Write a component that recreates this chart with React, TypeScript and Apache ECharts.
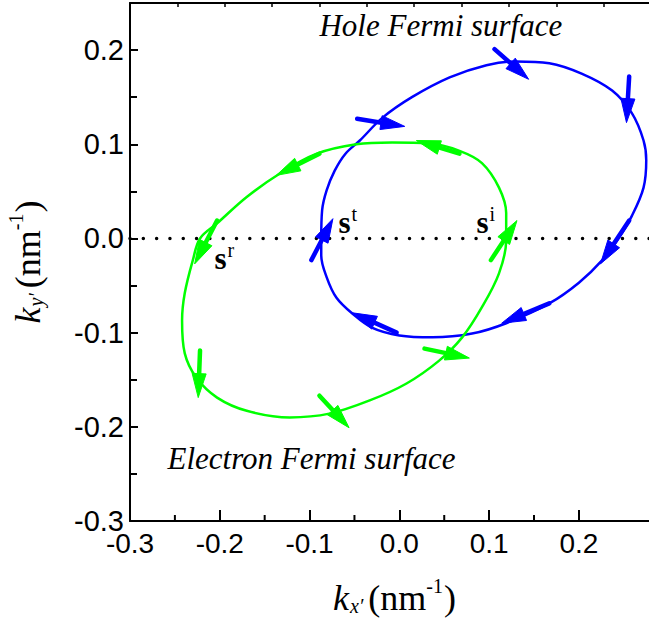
import React, { useEffect, useRef } from 'react';
import * as echarts from 'echarts';

// ---------- axis ranges / ticks ----------
const X_MIN = -0.3;
const X_MAX = 0.2803;
const Y_MIN = -0.3;
const Y_MAX = 0.25;
const xMinorTicks = [-0.25, -0.15, -0.05, 0.05, 0.15];
const topTickMax = 11;

// ---------- hole Fermi surface (blue) ----------
const holeX = [-0.087, -0.086, -0.081, -0.072, -0.060, -0.044, -0.019, 0.014, 0.056, 0.097, 0.130, 0.167, 0.203, 0.237, 0.259, 0.272, 0.275, 0.272, 0.259, 0.244, 0.226, 0.200, 0.167, 0.119, 0.081, 0.037, 0.000, -0.030, -0.052, -0.070, -0.081, -0.087, -0.087];
const holeY = [0.000, 0.030, 0.051, 0.072, 0.090, 0.104, 0.128, 0.150, 0.171, 0.184, 0.188, 0.186, 0.175, 0.157, 0.133, 0.104, 0.083, 0.054, 0.024, 0.000, -0.023, -0.047, -0.069, -0.090, -0.101, -0.105, -0.103, -0.095, -0.080, -0.063, -0.041, -0.018, 0.000];

// ---------- electron Fermi surface (green) ----------
const electronX = [-0.008, -0.048, -0.092, -0.133, -0.170, -0.203, -0.222, -0.230, -0.239, -0.242, -0.239, -0.226, -0.203, -0.170, -0.122, -0.078, -0.033, 0.008, 0.044, 0.070, 0.092, 0.111, 0.119, 0.119, 0.111, 0.092, 0.067, 0.033, -0.008];
const electronY = [0.102, 0.100, 0.090, 0.069, 0.044, 0.016, 0.000, -0.023, -0.058, -0.087, -0.122, -0.148, -0.169, -0.183, -0.190, -0.186, -0.172, -0.154, -0.130, -0.105, -0.073, -0.037, -0.002, 0.027, 0.054, 0.080, 0.093, 0.101, 0.102];

// ---------- arrows (tail -> tip) ----------
const holeArrowX1 = [-0.047, 0.106, 0.256, 0.256, 0.167, -0.003, -0.098];
const holeArrowY1 = [0.127, 0.201, 0.172, 0.019, -0.069, -0.100, -0.023];
const holeArrowX2 = [0.006, 0.144, 0.253, 0.224, 0.114, -0.052, -0.074];
const holeArrowY2 = [0.119, 0.169, 0.123, -0.027, -0.090, -0.079, 0.021];

const elecArrowX1 = [0.067, -0.089, -0.203, -0.222, -0.089, 0.028, 0.102];
const elecArrowY1 = [0.090, 0.090, 0.019, -0.119, -0.167, -0.117, -0.023];
const elecArrowX2 = [0.019, -0.137, -0.228, -0.224, -0.056, 0.078, 0.131];
const elecArrowY2 = [0.104, 0.067, -0.027, -0.169, -0.201, -0.127, 0.019];

// ---------- zero reference line ----------
const zeroLineX = [-0.3, 0.2803];
const zeroLineY = [0, 0];

// ---------- annotations ----------
const surfaceLabels = ['Hole Fermi surface', 'Electron Fermi surface'];
const surfaceX = [-0.0884, -0.2577];
const surfaceY = [0.2076, -0.2521];

const pointLabels = ['t', 'i', 'r'];
const pointX = [-0.0672, 0.0865, -0.2053];
const pointY = [0, 0, -0.0382];

const SERIF = "'Liberation Serif', 'Times New Roman', serif";
const SANS = "'Liberation Sans', Arial, sans-serif";
const BLUE = '#0000ff';
const GREEN = '#00ff00';

const fmtTick = (v: number) =>
  Math.abs(v * 10 - Math.round(v * 10)) < 1e-6 ? (Math.round(v * 10) / 10).toFixed(1) : '';

const zip = (a: number[], b: number[]) => a.map((v, i) => [v, b[i]]);

const NO_BORDER = { textBorderWidth: 0, textBorderColor: 'transparent', textShadowBlur: 0, opacity: 1 };

const arrowSeries = (x1: number[], y1: number[], x2: number[], y2: number[], color: string) => ({
  type: 'custom',
  xAxisIndex: 0,
  yAxisIndex: 0,
  z: 6,
  clip: false,
  silent: true,
  encode: { x: [0, 2], y: [1, 3] },
  data: x1.map((v, i) => [v, y1[i], x2[i], y2[i]]),
  renderItem: (_params: any, api: any) => {
    const p1 = api.coord([api.value(0), api.value(1)]);
    const p2 = api.coord([api.value(2), api.value(3)]);
    const dx = p2[0] - p1[0];
    const dy = p2[1] - p1[1];
    const len = Math.hypot(dx, dy) || 1;
    const ux = dx / len;
    const uy = dy / len;
    const nx = -uy;
    const ny = ux;
    const L = 24;
    const W = 7;
    const bx = p2[0] - ux * L;
    const by = p2[1] - uy * L;
    return {
      type: 'group',
      children: [
        {
          type: 'line',
          shape: { x1: p1[0], y1: p1[1], x2: bx + ux * 5, y2: by + uy * 5 },
          style: { stroke: color, lineWidth: 4.5, lineCap: 'round' },
        },
        {
          type: 'polygon',
          shape: { points: [[p2[0], p2[1]], [bx + nx * W, by + ny * W], [bx - nx * W, by - ny * W]] },
          style: { fill: color, stroke: color, lineWidth: 1, lineJoin: 'round' },
        },
      ],
    };
  },
});

const nameRich = {
  k: { fontFamily: SERIF, fontStyle: 'italic', fontSize: 36, lineHeight: 40, verticalAlign: 'bottom', color: '#000' },
  sub: { fontFamily: SERIF, fontStyle: 'italic', fontSize: 20, lineHeight: 16, verticalAlign: 'bottom', padding: [0, 5, 0, 1], color: '#000' },
  n: { fontFamily: SERIF, fontSize: 36, lineHeight: 40, verticalAlign: 'bottom', color: '#000' },
  sup: { fontFamily: SERIF, fontSize: 20, lineHeight: 22, padding: [0, 1, 20, 0], verticalAlign: 'bottom', color: '#000' },
};

const option: any = {
  animation: false,
  backgroundColor: '#ffffff',
  grid: { left: 130, top: 3, right: -2, bottom: 98, containLabel: false, outerBoundsMode: 'none' },
  xAxis: [
    {
      type: 'value',
      min: X_MIN,
      max: X_MAX,
      interval: 0.1,
      position: 'bottom',
      name: '{k|k}{sub|x\u2032}{n|(nm}{sup|-1}{n|)}',
      nameLocation: 'middle',
      nameGap: 55,
      nameTextStyle: { rich: nameRich, color: '#000', padding: [0, 0, 0, 8] },
      axisLine: { show: true, onZero: false, lineStyle: { color: '#000', width: 2 } },
      axisTick: { show: true, inside: true, length: 11, lineStyle: { color: '#000', width: 2 } },
      minorTick: { show: false },
      axisLabel: { show: true, fontFamily: SANS, fontSize: 28, lineHeight: 22, color: '#000', margin: 11, formatter: fmtTick, showMinLabel: true },
      splitLine: { show: false },
    },
    {
      type: 'value',
      min: 0,
      max: topTickMax,
      interval: 1,
      position: 'top',
      axisLine: { show: true, onZero: false, lineStyle: { color: '#000', width: 2 } },
      axisTick: { show: true, inside: true, length: 4, lineStyle: { color: '#000', width: 1.5 } },
      axisLabel: { show: false },
      splitLine: { show: false },
    },
  ],
  yAxis: {
    type: 'value',
    min: Y_MIN,
    max: Y_MAX,
    interval: 0.1,
    position: 'left',
    name: '{k|k}{sub|y\u2032}{n|(nm}{sup|-1}{n|)}',
    nameLocation: 'middle',
    nameRotate: 90,
    nameGap: 84,
    nameTextStyle: { rich: nameRich, color: '#000' },
    axisLine: { show: true, onZero: false, lineStyle: { color: '#000', width: 2 } },
    axisTick: { show: true, inside: true, length: 8, lineStyle: { color: '#000', width: 2 } },
    minorTick: { show: true, splitNumber: 2, length: 7, lineStyle: { color: '#000', width: 2 } },
    axisLabel: { show: true, fontFamily: SANS, fontSize: 29, lineHeight: 20, color: '#000', margin: 6, formatter: fmtTick, showMinLabel: true },
    splitLine: { show: false },
    minorSplitLine: { show: false },
  },
  series: [
    {
      type: 'custom',
      xAxisIndex: 0,
      yAxisIndex: 0,
      clip: false,
      silent: true,
      z: 3,
      data: xMinorTicks.map((v) => [v, Y_MIN]),
      renderItem: (_params: any, api: any) => {
        const p = api.coord([api.value(0), api.value(1)]);
        return {
          type: 'line',
          shape: { x1: p[0], y1: p[1], x2: p[0], y2: p[1] - 6 },
          style: { stroke: '#000', lineWidth: 2 },
        };
      },
    },
    {
      type: 'line',
      data: zip(zeroLineX, zeroLineY),
      showSymbol: false,
      silent: true,
      z: 1,
      lineStyle: { color: '#000', width: 3.5, type: [0.01, 13.3], cap: 'round' },
    },
    {
      type: 'line',
      data: zip(holeX, holeY),
      smooth: 0.35,
      showSymbol: false,
      silent: true,
      z: 2,
      lineStyle: { color: BLUE, width: 2.5 },
    },
    {
      type: 'line',
      data: zip(electronX, electronY),
      smooth: 0.35,
      showSymbol: false,
      silent: true,
      z: 3,
      lineStyle: { color: GREEN, width: 2.5 },
    },
    arrowSeries(holeArrowX1, holeArrowY1, holeArrowX2, holeArrowY2, BLUE),
    arrowSeries(elecArrowX1, elecArrowY1, elecArrowX2, elecArrowY2, GREEN),
    {
      type: 'scatter',
      symbolSize: 1,
      silent: true,
      z: 8,
      itemStyle: { color: 'rgba(0,0,0,0)', opacity: 1 },
      data: surfaceLabels.map((t, i) => ({ value: [surfaceX[i], surfaceY[i]], name: t })),
      label: {
        show: true,
        position: [0, 0],
        align: 'left',
        verticalAlign: 'bottom',
        formatter: (p: any) => p.name,
        fontFamily: SERIF,
        fontStyle: 'italic',
        fontSize: 31,
        lineHeight: 34,
        color: '#000',
        ...NO_BORDER,
      },
    },
    {
      type: 'scatter',
      symbolSize: 1,
      silent: true,
      z: 8,
      itemStyle: { color: 'rgba(0,0,0,0)', opacity: 1 },
      data: pointLabels.map((t, i) => ({ value: [pointX[i], pointY[i]], name: t })),
      label: {
        show: true,
        position: [0, 0],
        align: 'left',
        verticalAlign: 'bottom',
        color: '#000',
        ...NO_BORDER,
        formatter: (p: any) => `{s|s}{p|${p.name}}`,
        rich: {
          s: { fontFamily: SERIF, fontWeight: 'bold', fontSize: 31, lineHeight: 32, verticalAlign: 'bottom', color: '#000', ...NO_BORDER },
          p: { fontFamily: SERIF, fontSize: 20, lineHeight: 22, padding: [0, 0, 14, 1], verticalAlign: 'bottom', color: '#000', ...NO_BORDER },
        },
      },
    },
  ],
};

export default function App() {
  const ref = useRef<HTMLDivElement>(null);
  useEffect(() => {
    const chart = echarts.init(ref.current!, null, { renderer: 'svg' });
    chart.setOption(option);
    return () => chart.dispose();
  }, []);
  return (
    <div
      ref={ref}
      style={{ position: 'fixed', left: 0, top: 0, width: 649, height: 619, background: '#fff', overflow: 'hidden' }}
    />
  );
}
